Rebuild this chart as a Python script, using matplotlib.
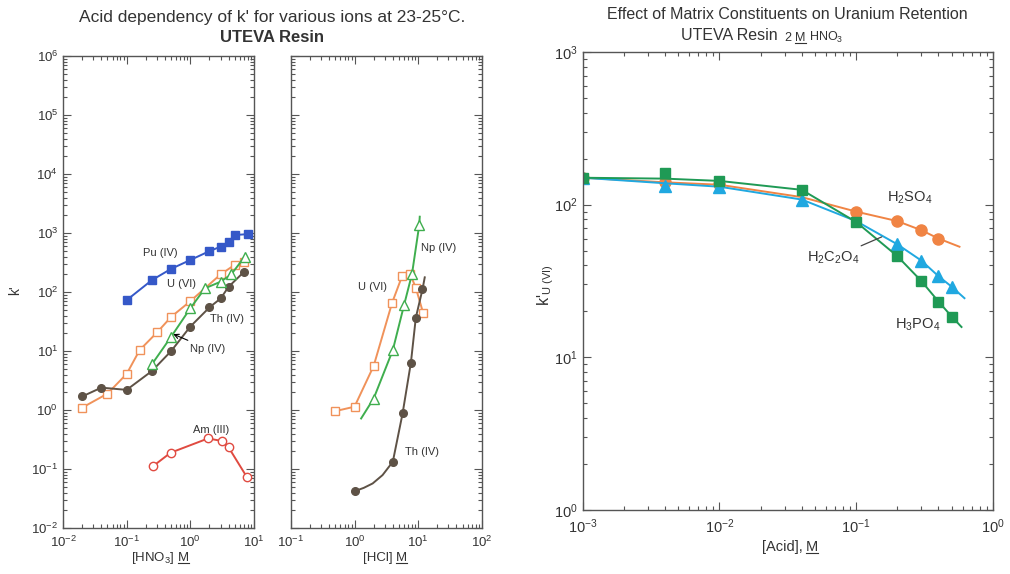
import numpy as np
import matplotlib
matplotlib.use("Agg")
import matplotlib.pyplot as plt
from matplotlib.lines import Line2D
from matplotlib.ticker import LogLocator, NullFormatter, FixedLocator

plt.rcParams["font.family"] = ["Liberation Sans", "DejaVu Sans"]
plt.rcParams["mathtext.fontset"] = "custom"
plt.rcParams["mathtext.rm"] = "Liberation Sans"
plt.rcParams["mathtext.it"] = "Liberation Sans:italic"
plt.rcParams["mathtext.default"] = "regular"

# ===============================
# Data - HNO3 panel
# ===============================
hno3_pu_x = [0.1, 0.25, 0.5, 1, 2, 3, 4, 5, 8]
hno3_pu_y = [73, 160, 248, 350, 495, 590, 710, 930, 960]

hno3_u_x = [0.02, 0.05, 0.1, 0.16, 0.3, 0.5, 1, 3, 5, 7]
hno3_u_y = [1.1, 1.9, 4.1, 10.4, 20.7, 38, 70, 200, 290, 330]

hno3_th_x = [0.02, 0.04, 0.1, 0.25, 0.5, 1, 2, 3, 4, 7]
hno3_th_y = [1.7, 2.4, 2.2, 4.6, 10, 26, 55, 78, 123, 221]

hno3_np_x = [0.25, 0.5, 1, 1.7, 3, 4.4, 7.2]
hno3_np_y = [6.0, 17.5, 53, 116, 150, 200, 400]

hno3_am_x = [0.26, 0.49, 1.9, 3.1, 4.0, 7.7]
hno3_am_y = [0.112, 0.189, 0.33, 0.30, 0.233, 0.074]

# ===============================
# Data - HCl panel
# ===============================
hcl_u_x = [0.5, 1.0, 2.0, 3.9, 5.6, 7.5, 9.2, 12]
hcl_u_y = [0.96, 1.14, 5.6, 66, 187, 202, 118, 44]

hcl_np_x = [2.0, 4.0, 6.0, 8.0, 10.4]
hcl_np_y = [1.57, 10.4, 60, 202, 1365]
hcl_np_line_x = [1.27, 2.0, 4.0, 6.0, 8.0, 10.4, 10.6]
hcl_np_line_y = [0.72, 1.57, 10.4, 60, 202, 1365, 1900]

hcl_th_x = [1.0, 4.0, 5.7, 7.7, 9.2, 11.7]
hcl_th_y = [0.042, 0.133, 0.88, 6.4, 37, 111]
hcl_th_line_x = [1.0, 1.4, 1.93, 2.76, 4.0, 5.7, 7.7, 9.2, 11.7, 12.7]
hcl_th_line_y = [0.042, 0.048, 0.057, 0.079, 0.133, 0.88, 6.4, 37, 111, 178]

# ===============================
# Data - matrix constituents panel
# ===============================
h3po4_x = [0.001, 0.004, 0.01, 0.04, 0.1, 0.2, 0.3, 0.4, 0.5]
h3po4_y = [150, 161, 143, 125, 77, 46, 31.6, 23.2, 18.5]
h3po4_line_x = [0.001, 0.004, 0.01, 0.04, 0.1, 0.2, 0.3, 0.4, 0.5, 0.59]
h3po4_line_y = [150, 148, 143, 125, 77, 46, 31.6, 23.2, 18.5, 15.8]

h2c2o4_x = [0.001, 0.004, 0.01, 0.04, 0.2, 0.3, 0.4, 0.5]
h2c2o4_y = [150, 133, 131, 108, 55, 43, 34, 29]
h2c2o4_line_x = [0.001, 0.004, 0.01, 0.04, 0.1, 0.2, 0.3, 0.4, 0.5, 0.62]
h2c2o4_line_y = [150, 138, 131, 108, 78, 55, 43, 34, 29, 24.4]

h2so4_x = [0.001, 0.004, 0.01, 0.1, 0.2, 0.3, 0.4]
h2so4_y = [150, 140, 137, 90, 78, 68, 60]
h2so4_line_x = [0.001, 0.004, 0.01, 0.04, 0.1, 0.2, 0.3, 0.4, 0.57]
h2so4_line_y = [150, 140, 135, 112, 90, 78, 68, 60, 53]

# ===============================
# Colours
# ===============================
c_pu = "#3558c8"
c_u = "#f0925a"
c_th = "#5e5246"
c_np = "#3fae4e"
c_am = "#e04a40"
c_so4 = "#f08444"
c_ox = "#20a8e0"
c_po4 = "#1f9a55"
c_txt = "#333333"
c_ax = "#555555"

fig = plt.figure(figsize=(10.1, 5.74), dpi=100)
ax1 = fig.add_axes([0.0624, 0.0801, 0.189, 0.822])
ax2 = fig.add_axes([0.288, 0.0801, 0.189, 0.822])
ax3 = fig.add_axes([0.577, 0.1115, 0.406, 0.798])


def style_axis(ax, xlim, ylim, fs):
    ax.set_xscale("log")
    ax.set_yscale("log")
    ax.set_xlim(*xlim)
    ax.set_ylim(*ylim)
    for axis, lim in ((ax.xaxis, xlim), (ax.yaxis, ylim)):
        lo, hi = int(round(np.log10(lim[0]))), int(round(np.log10(lim[1])))
        axis.set_major_locator(FixedLocator(10.0 ** np.arange(lo, hi + 1)))
        minors = [m * 10.0 ** d for d in range(lo, hi) for m in range(2, 10)]
        axis.set_minor_locator(FixedLocator(minors))
        axis.set_minor_formatter(NullFormatter())
    ax.tick_params(which="both", direction="in", top=True, right=True,
                   colors=c_ax, labelcolor=c_txt, labelsize=fs, width=0.8)
    ax.tick_params(which="major", length=6)
    ax.tick_params(which="minor", length=3)
    ax.tick_params(axis="x", pad=5)
    for s in ax.spines.values():
        s.set_color(c_ax)
        s.set_linewidth(1.0)


style_axis(ax1, (1e-2, 1e1), (1e-2, 1e6), 9.5)
style_axis(ax2, (1e-1, 1e2), (1e-2, 1e6), 9.5)
style_axis(ax3, (1e-3, 1e0), (1e0, 1e3), 10.5)

# ----- HNO3 panel -----
ax1.plot(hno3_am_x, hno3_am_y, "-o", color=c_am, mfc="white", mec=c_am, ms=6, lw=1.4)
ax1.plot(hno3_u_x, hno3_u_y, "-s", color=c_u, mfc="white", mec=c_u, ms=6, lw=1.4)
ax1.plot(hno3_th_x, hno3_th_y, "-o", color=c_th, mfc=c_th, mec=c_th, ms=5.5, lw=1.4)
ax1.plot(hno3_np_x, hno3_np_y, "-^", color=c_np, mfc="white", mec=c_np, ms=7, lw=1.4)
ax1.plot(hno3_pu_x, hno3_pu_y, "-s", color=c_pu, mfc=c_pu, mec=c_pu, ms=5.5, lw=1.4)

lab = dict(fontsize=8, color=c_txt, ha="center", va="center")
ax1.text(0.334, 458, "Pu (IV)", **lab)
ax1.text(0.73, 137, "U (VI)", **lab)
ax1.text(3.8, 34.8, "Th (IV)", **lab)
ax1.text(2.11, 0.458, "Am (III)", **lab)
ax1.annotate("Np (IV)", xy=(0.54, 19.4), xytext=(0.98, 11), fontsize=8, color=c_txt,
             ha="left", va="center",
             arrowprops=dict(arrowstyle="->", color="black", lw=0.8, shrinkA=1, shrinkB=0))

# ----- HCl panel -----
ax2.tick_params(labelleft=False)
ax2.plot(hcl_u_x, hcl_u_y, "-s", color=c_u, mfc="white", mec=c_u, ms=6, lw=1.4)
ax2.plot(hcl_np_line_x, hcl_np_line_y, "-", color=c_np, lw=1.4)
ax2.plot(hcl_np_x, hcl_np_y, "^", mfc="white", mec=c_np, ms=7)
ax2.plot(hcl_th_line_x, hcl_th_line_y, "-", color=c_th, lw=1.4)
ax2.plot(hcl_th_x, hcl_th_y, "o", mfc=c_th, mec=c_th, ms=5.5)
ax2.text(1.89, 123, "U (VI)", **lab)
ax2.text(20.9, 550, "Np (IV)", **lab)
ax2.text(11.7, 0.196, "Th (IV)", **lab)

# ----- Matrix constituents panel -----
ax3.plot(h2so4_line_x, h2so4_line_y, "-", color=c_so4, lw=1.4)
ax3.plot(h2so4_x, h2so4_y, "o", color=c_so4, ms=8)
ax3.plot(h2c2o4_line_x, h2c2o4_line_y, "-", color=c_ox, lw=1.4)
ax3.plot(h2c2o4_x, h2c2o4_y, "^", color=c_ox, ms=8.5)
ax3.plot(h3po4_line_x, h3po4_line_y, "-", color=c_po4, lw=1.4)
ax3.plot(h3po4_x, h3po4_y, "s", color=c_po4, ms=7.5)

lab3 = dict(fontsize=10.5, color=c_txt, ha="center", va="center")
ax3.text(0.246, 111, "H$_2$SO$_4$", **lab3)
ax3.text(0.282, 16.3, "H$_3$PO$_4$", **lab3)
ax3.annotate("H$_2$C$_2$O$_4$", xy=(0.154, 61.5), xytext=(0.068, 44.8), fontsize=10.5,
             color=c_txt, ha="center", va="center",
             arrowprops=dict(arrowstyle="-", color="#444444", lw=0.9, shrinkA=2, shrinkB=0))

# ----- Titles -----
fig.text(0.2693, 0.970, "Acid dependency of k' for various ions at 23-25°C.",
         fontsize=12.5, color=c_txt, ha="center", va="center")
fig.text(0.2693, 0.9355, "UTEVA Resin", fontsize=12, fontweight="bold",
         color=c_txt, ha="center", va="center")
fig.text(0.780, 0.974, "Effect of Matrix Constituents on Uranium Retention",
         fontsize=11.5, color=c_txt, ha="center", va="center")
fig.text(0.770, 0.938, "UTEVA Resin", fontsize=11.5, color=c_txt, ha="right", va="center")

# ----- Texts with an underlined molarity "M" -----
renderer = fig.canvas.get_renderer()
W, H = fig.bbox.width, fig.bbox.height


def underlined(parts, ul, x, y, fs, ha="center", gap=0.0):
    # place the pieces, measure them, then lay them out left to right
    texts = [fig.text(x, y, p, fontsize=fs, color=c_txt, ha="left", va="baseline")
             for p in parts]
    widths = [t.get_window_extent(renderer).width + gap for t in texts]
    total = sum(widths) - gap
    px = x * W - (total / 2 if ha == "center" else 0)
    for i, t in enumerate(texts):
        t.set_position((px / W, y))
        if i == ul:
            yl = y - 0.12 * fs / H * 100 / 72
            fig.add_artist(Line2D([px / W, (px + widths[i] - gap) / W], [yl, yl],
                                  transform=fig.transFigure, color=c_txt, lw=0.8))
        px += widths[i]


underlined(["2", "M", "HNO$_3$"], 1, 0.777, 0.928, 9, ha="left", gap=3.5)
underlined(["[HNO$_3$]", "M"], 1, 0.158, 0.022, 9.5, gap=3.5)
underlined(["[HCl]", "M"], 1, 0.381, 0.022, 9.5, gap=3.5)
underlined(["[Acid],", "M"], 1, 0.782, 0.040, 10.5, gap=3.5)

fig.text(0.015, 0.495, "k'", fontsize=10, color=c_txt, ha="center", va="center", rotation=90)
fig.text(0.540, 0.503, "k'$_{U\\ (VI)}$", fontsize=11.5, color=c_txt, ha="center",
         va="center", rotation=90)

plt.savefig("out.png", dpi=100)
